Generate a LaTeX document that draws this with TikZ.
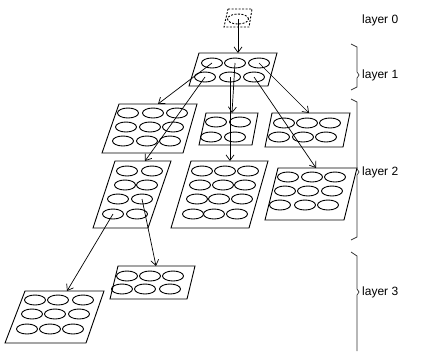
\documentclass[tikz,border=0pt]{standalone}
\usepackage{fontspec}
\setmainfont{Liberation Sans}
\usetikzlibrary{arrows.meta,shapes.geometric}
\begin{document}
\begin{tikzpicture}[x=1pt,y=-1pt,
  panel/.style={draw=black,line width=0.9pt,line join=miter},
  cell/.style={draw=black,ellipse,line width=0.9pt,minimum width=21pt,minimum height=10pt,inner sep=0pt},
  link/.style={draw=black,line width=0.7pt,-{Straight Barb[length=5.5pt,width=8pt]}},
  brace/.style={draw=black!80,line width=0.7pt},
  lbl/.style={anchor=west,font=\fontsize{12}{13}\selectfont,inner sep=0pt}]
\useasboundingbox (0,0) rectangle (422,351);
% layer 0
\draw[panel,dashed,dash pattern=on 2pt off 1.5pt] (228,9) -- (252,9) -- (249,27) -- (224,27) -- cycle;
\node[cell,dashed,dash pattern=on 2pt off 1.5pt] (e0) at (238,19) {};
% layer 1
\draw[panel] (199,53) -- (277,53) -- (268,86) -- (189,86) -- cycle;
\foreach \x/\y/\n in {212/63/a1,235/63/a2,259/63/a3,205/77/a4,230/77/a5,254/77/a6}
  \node[cell] (\n) at (\x,\y) {};
% panel A
\draw[panel] (119,104) -- (197,104) -- (183,153) -- (102,153) -- cycle;
\foreach \x/\y/\n in {128/113/A1,153/113/A2,177/113/A3,126/127/A4,150/127/A5,173/127/A6,123/141/A7,147/141/A8,170/141/A9}
  \node[cell] (\n) at (\x,\y) {};
% panel B
\draw[panel] (206,113) -- (258,113) -- (252,145) -- (199,145) -- cycle;
\foreach \x/\y/\n in {216/122/B1,240/122/B2,211/137/B3,235/137/B4}
  \node[cell] (\n) at (\x,\y) {};
% panel C
\draw[panel] (272,113) -- (350,113) -- (343,147) -- (265,147) -- cycle;
\foreach \x/\y/\n in {284/123/C1,307/123/C2,330/123/C3,279/137/C4,303/137/C5,326/137/C6}
  \node[cell] (\n) at (\x,\y) {};
% panel D
\draw[panel] (115,161) -- (171,161) -- (148,228) -- (93,228) -- cycle;
\foreach \x/\y/\n in {127/171/D1,152/171/D2,125/185/D3,147/185/D4,118/199/D5,142/199/D6,113/214/D7,137/214/D8}
  \node[cell] (\n) at (\x,\y) {};
% panel G
\draw[panel] (191,161) -- (268,161) -- (249,228) -- (171,228) -- cycle;
\foreach \x/\y/\n in {202/171/G1,225/171/G2,248/171/G3,200/185/G4,223/185/G5,245/185/G6,197/199/G7,219/199/G8,242/199/G9,193/214/G10,214/214/G11,237/214/G12}
  \node[cell] (\n) at (\x,\y) {};
% panel H
\draw[panel] (278,168) -- (357,168) -- (344,220) -- (265,220) -- cycle;
\foreach \x/\y/\n in {288/177/H1,312/177/H2,335/177/H3,285/191/H4,308/191/H5,332/191/H6,280/205/H7,305/205/H8,328/205/H9}
  \node[cell] (\n) at (\x,\y) {};
% panel E
\draw[panel] (118,266) -- (195,266) -- (187,299) -- (110,299) -- cycle;
\foreach \x/\y/\n in {127/276/E1,150/276/E2,173/276/E3,122/289/E4,145/289/E5,170/289/E6}
  \node[cell] (\n) at (\x,\y) {};
% panel F
\draw[panel] (25,291) -- (104,291) -- (86,343) -- (5,343) -- cycle;
\foreach \x/\y/\n in {35/300/F1,58/300/F2,83/300/F3,32/314/F4,55/314/F5,79/314/F6,27/329/F7,50/329/F8,73/329/F9}
  \node[cell] (\n) at (\x,\y) {};
% arrow targets
\coordinate (t1) at (238,53);
\coordinate (tA) at (158,104);
\coordinate (tD) at (145,161);
\coordinate (tB) at (232,113);
\coordinate (tG) at (230,161);
\coordinate (tC) at (309,113);
\coordinate (tH) at (316,168);
\coordinate (tE) at (156,266);
\coordinate (tF) at (67,291);
\draw[link] (e0.center) -- (t1);
\draw[link] (a1.center) -- (tA);
\draw[link] (a4.center) -- (tD);
\draw[link] (a2.center) -- (tB);
\draw[link] (a5.center) -- (tG);
\draw[link] (a3.center) -- (tC);
\draw[link] (a6.center) -- (tH);
\draw[link] (D6.center) -- (tE);
\draw[link] (D7.center) -- (tF);
% braces
\draw[brace] (351,44) -- (357,47) -- (357,72) -- (359,75) -- (357,78) -- (357,87) -- (351,90);
\draw[brace] (351,99) -- (357,102) -- (357,169) -- (359,172) -- (357,175) -- (357,237) -- (351,240);
\draw[brace] (351,252) -- (357,256) -- (357,289) -- (359,292) -- (357,295) -- (357,351);
% labels
\node[lbl] (l0) at (362,20) {layer 0};
\node[lbl] (l1) at (362,75) {layer 1};
\node[lbl] (l2) at (362,172) {layer 2};
\node[lbl] (l3) at (362,292) {layer 3};
\end{tikzpicture}
\end{document}
